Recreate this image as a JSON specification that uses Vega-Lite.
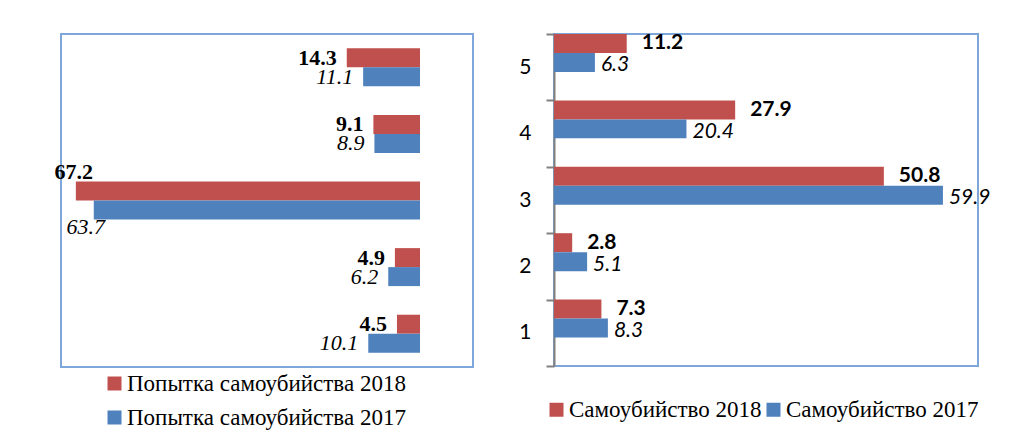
{
  "$schema": "https://vega.github.io/schema/vega-lite/v6.json",
  "background": "white",
  "autosize": {"type": "pad"},
  "padding": {"left": 53, "top": 22, "right": 5, "bottom": 5},
  "datasets": {
    "attempt": [
      {"cat": 5, "year": 2018, "series": "Попытка самоубийства 2018", "v": 14.3},
      {"cat": 5, "year": 2017, "series": "Попытка самоубийства 2017", "v": 11.1},
      {"cat": 4, "year": 2018, "series": "Попытка самоубийства 2018", "v": 9.1},
      {"cat": 4, "year": 2017, "series": "Попытка самоубийства 2017", "v": 8.9},
      {"cat": 3, "year": 2018, "series": "Попытка самоубийства 2018", "v": 67.2},
      {"cat": 3, "year": 2017, "series": "Попытка самоубийства 2017", "v": 63.7},
      {"cat": 2, "year": 2018, "series": "Попытка самоубийства 2018", "v": 4.9},
      {"cat": 2, "year": 2017, "series": "Попытка самоубийства 2017", "v": 6.2},
      {"cat": 1, "year": 2018, "series": "Попытка самоубийства 2018", "v": 4.5},
      {"cat": 1, "year": 2017, "series": "Попытка самоубийства 2017", "v": 10.1}
    ],
    "suicide": [
      {"cat": 5, "year": 2018, "series": "Самоубийство 2018", "v": 11.2},
      {"cat": 5, "year": 2017, "series": "Самоубийство 2017", "v": 6.3},
      {"cat": 4, "year": 2018, "series": "Самоубийство 2018", "v": 27.9},
      {"cat": 4, "year": 2017, "series": "Самоубийство 2017", "v": 20.4},
      {"cat": 3, "year": 2018, "series": "Самоубийство 2018", "v": 50.8},
      {"cat": 3, "year": 2017, "series": "Самоубийство 2017", "v": 59.9},
      {"cat": 2, "year": 2018, "series": "Самоубийство 2018", "v": 2.8},
      {"cat": 2, "year": 2017, "series": "Самоубийство 2017", "v": 5.1},
      {"cat": 1, "year": 2018, "series": "Самоубийство 2018", "v": 7.3},
      {"cat": 1, "year": 2017, "series": "Самоубийство 2017", "v": 8.3}
    ]
  },
  "spacing": 81,
  "bounds": "flush",
  "resolve": {"scale": {"color": "independent"}, "legend": {"color": "independent"}},
  "hconcat": [
    {
      "width": 412,
      "height": 333,
      "data": {"name": "attempt"},
      "encoding": {
        "y": {"field": "cat", "type": "ordinal", "sort": "descending", "axis": null,
              "scale": {"paddingInner": 0.43, "paddingOuter": 0.215}},
        "yOffset": {"field": "year", "type": "ordinal", "sort": "descending",
                    "scale": {"paddingInner": 0, "paddingOuter": 0}},
        "x": {"field": "v", "type": "quantitative", "axis": null,
              "scale": {"domain": [-10.35, 70.1], "reverse": true, "nice": false, "zero": false}}
      },
      "layer": [
        {
          "mark": {"type": "bar"},
          "encoding": {
            "x2": {"datum": 0},
            "color": {
              "field": "series", "type": "nominal",
              "scale": {"domain": ["Попытка самоубийства 2018", "Попытка самоубийства 2017"], "range": ["#C0504D", "#4F81BD"]},
              "legend": {"orient": "none", "legendX": 42, "legendY": 338, "direction": "vertical", "title": null,
                         "symbolType": "square", "symbolSize": 196, "symbolStrokeWidth": 0,
                         "labelFont": "Liberation Serif", "labelFontSize": 23, "labelColor": "black",
                         "rowPadding": 10, "labelOffset": 1, "labelLimit": 400}
            }
          }
        },
        {
          "transform": [{"filter": "datum.year == 2018 && datum.v != 67.2"}],
          "mark": {"type": "text", "align": "right", "baseline": "middle", "dx": -10, "font": "Liberation Serif", "fontSize": 22, "fontWeight": "bold", "color": "black"},
          "encoding": {"text": {"field": "v", "type": "quantitative", "format": ".1f"}}
        },
        {
          "transform": [{"filter": "datum.year == 2017 && datum.v != 63.7"}],
          "mark": {"type": "text", "align": "right", "baseline": "middle", "dx": -10, "font": "Liberation Serif", "fontSize": 22, "fontStyle": "italic", "color": "black"},
          "encoding": {"text": {"field": "v", "type": "quantitative", "format": ".1f"}}
        },
        {
          "transform": [{"filter": "datum.v == 67.2"}],
          "mark": {"type": "text", "align": "center", "baseline": "middle", "dx": -2, "dy": -19, "font": "Liberation Serif", "fontSize": 22, "fontWeight": "bold", "color": "black"},
          "encoding": {"text": {"field": "v", "type": "quantitative", "format": ".1f"}}
        },
        {
          "transform": [{"filter": "datum.v == 63.7"}],
          "mark": {"type": "text", "align": "center", "baseline": "middle", "dx": -8, "dy": 17, "font": "Liberation Serif", "fontSize": 22, "fontStyle": "italic", "color": "black"},
          "encoding": {"text": {"field": "v", "type": "quantitative", "format": ".1f"}}
        }
      ]
    },
    {
      "width": 424,
      "height": 332,
      "data": {"name": "suicide"},
      "encoding": {
        "y": {"field": "cat", "type": "ordinal", "sort": "descending",
              "scale": {"paddingInner": 0, "paddingOuter": 0},
              "axis": {"title": null, "tickBand": "extent", "domainColor": "#808080", "domainWidth": 2,
                       "tickColor": "#808080", "tickWidth": 2, "tickSize": 8,
                       "labelFont": "Lato", "labelFontSize": 21, "labelColor": "black", "labelPadding": 15, "labelAngle": 0}},
        "yOffset": {"field": "year", "type": "ordinal", "sort": "descending",
                    "scale": {"paddingInner": 0, "paddingOuter": 0.747}},
        "x": {"field": "v", "type": "quantitative", "axis": null,
              "scale": {"domain": [0, 65.3], "nice": false}}
      },
      "layer": [
        {
          "mark": {"type": "bar"},
          "encoding": {
            "color": {
              "field": "series", "type": "nominal",
              "scale": {"domain": ["Самоубийство 2018", "Самоубийство 2017"], "range": ["#C0504D", "#4F81BD"]},
              "legend": {"orient": "none", "legendX": -9, "legendY": 364, "direction": "horizontal", "title": null,
                         "symbolType": "square", "symbolSize": 196, "symbolStrokeWidth": 0,
                         "labelFont": "Liberation Serif", "labelFontSize": 23, "labelColor": "black",
                         "columnPadding": 0, "labelOffset": 1, "labelLimit": 400}
            }
          }
        },
        {
          "transform": [{"filter": "datum.year == 2018"}],
          "mark": {"type": "text", "align": "left", "baseline": "middle", "dx": 15, "font": "Lato", "fontSize": 21, "fontWeight": "bold", "color": "black"},
          "encoding": {"text": {"field": "v", "type": "quantitative", "format": ".1f"}}
        },
        {
          "transform": [{"filter": "datum.year == 2017"}],
          "mark": {"type": "text", "align": "left", "baseline": "middle", "dx": 6, "dy": 3, "font": "Lato", "fontSize": 21, "fontStyle": "italic", "color": "black"},
          "encoding": {"text": {"field": "v", "type": "quantitative", "format": ".1f"}}
        }
      ]
    }
  ],
  "config": {
    "view": {"stroke": "#7DA7DB", "strokeWidth": 2}
  }
}
